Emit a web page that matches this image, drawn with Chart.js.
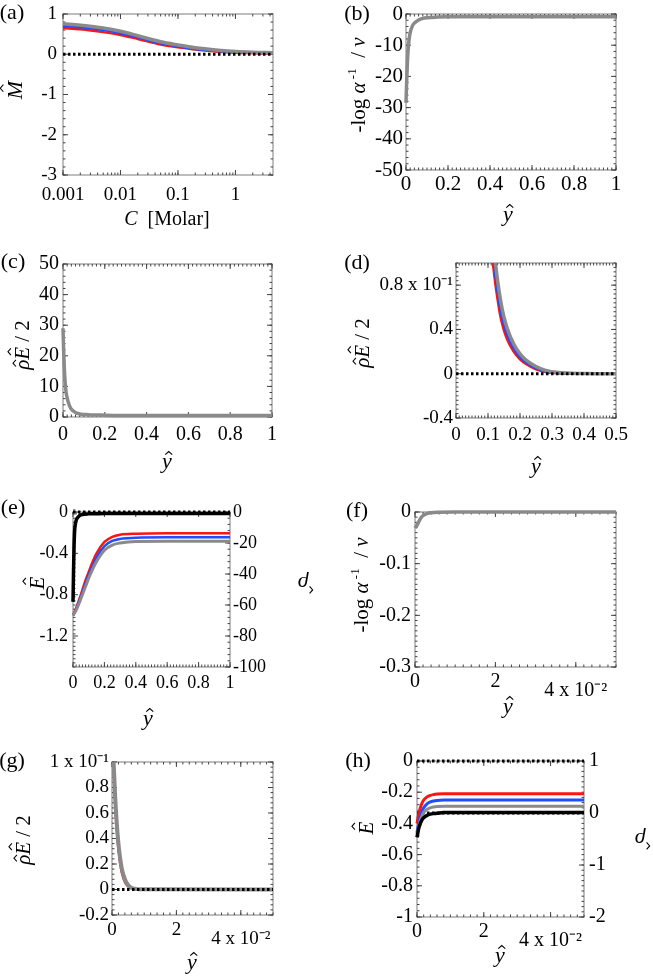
<!DOCTYPE html>
<html>
<head>
<meta charset="utf-8">
<script src="https://cdn.jsdelivr.net/npm/chart.js@4.4.1/dist/chart.umd.min.js"></script>
<style>
  body { margin: 0; background: #fff; }
  #fig { position: relative; width: 653px; height: 977px; }
  #fig canvas { position: absolute; left: 0; top: 0; }
</style>
</head>
<body>
<div id="fig">
  <canvas id="pa" width="653" height="977"></canvas>
  <canvas id="pb" width="653" height="977"></canvas>
  <canvas id="pc" width="653" height="977"></canvas>
  <canvas id="pd" width="653" height="977"></canvas>
  <canvas id="pe" width="653" height="977"></canvas>
  <canvas id="pf" width="653" height="977"></canvas>
  <canvas id="pg" width="653" height="977"></canvas>
  <canvas id="ph" width="653" height="977"></canvas>
</div>
<script>
// ---- (a) M vs C (log axis)
const concA = [0.001, 0.002, 0.005, 0.01, 0.02, 0.05, 0.1, 0.2, 0.5, 1, 2, 4.5];
const mGrayA = [0.76, 0.72, 0.65, 0.57, 0.46, 0.31, 0.23, 0.16, 0.1, 0.067, 0.05, 0.04];
const mBlueA = [0.70, 0.67, 0.60, 0.52, 0.42, 0.27, 0.19, 0.13, 0.08, 0.05, 0.035, 0.025];
const mRedA = [0.65, 0.62, 0.55, 0.48, 0.38, 0.24, 0.175, 0.115, 0.065, 0.04, 0.027, 0.017];
const xTicksA = [0.001, 0.01, 0.1, 1];
const xLabelsA = ['0.001', '0.01', '0.1', '1'];
const yTicksA = [1, 0, -1, -2, -3];

// ---- (b) -log a^-1 / v vs y
const yB = [0, 0.003, 0.006, 0.01, 0.015, 0.02, 0.03, 0.04, 0.06, 0.08, 0.1, 0.15, 0.2, 0.4, 1];
const logGrayB = [-28.5, -22, -16.5, -11.5, -8, -6, -3.9, -2.9, -1.9, -1.4, -1.2, -1.0, -0.9, -0.85, -0.85];
const xTicksB = [0, 0.2, 0.4, 0.6, 0.8, 1];
const xLabelsB = ['0', '0.2', '0.4', '0.6', '0.8', '1'];
const yTicksB = [0, -10, -20, -30, -40, -50];

// ---- (c) rhoE/2 vs y
const yC = [0, 0.003, 0.006, 0.01, 0.015, 0.02, 0.03, 0.04, 0.06, 0.08, 0.12, 0.2, 0.4, 1];
const reGrayC = [29, 22, 16.5, 11.5, 8, 6.2, 3.9, 2.5, 1.5, 1.0, 0.75, 0.6, 0.5, 0.5];
const xTicksC = [0, 0.2, 0.4, 0.6, 0.8, 1];
const xLabelsC = ['0', '0.2', '0.4', '0.6', '0.8', '1'];
const yTicksC = [0, 10, 20, 30, 40, 50];

// ---- (d) rhoE/2 (x10^-1) vs y, zoomed
const yD = [0.10, 0.11, 0.12, 0.13, 0.14, 0.15, 0.16, 0.18, 0.20, 0.22, 0.25, 0.28, 0.32, 0.4, 0.5];
const reRedD = [1.45, 1.15, 0.88, 0.67, 0.5, 0.39, 0.31, 0.2, 0.13, 0.085, 0.04, 0.015, 0.004, 0, 0];
const reBlueD = [1.55, 1.24, 0.96, 0.74, 0.56, 0.44, 0.35, 0.23, 0.15, 0.1, 0.05, 0.02, 0.006, 0.001, 0];
const reGrayD = [1.7, 1.38, 1.08, 0.84, 0.65, 0.51, 0.41, 0.27, 0.18, 0.12, 0.065, 0.03, 0.01, 0.002, 0];
const xTicksD = [0, 0.1, 0.2, 0.3, 0.4, 0.5];
const xLabelsD = ['0', '0.1', '0.2', '0.3', '0.4', '0.5'];
const yTicksD = [-0.4, 0, 0.4, 0.8];
const yLabelsD = ['-0.4', '0', '0.4', '0.8 x 10⁻¹'];

// ---- (e) E (left) and rho (right) vs y
const yE = [0, 0.02, 0.05, 0.08, 0.1, 0.12, 0.15, 0.2, 0.25, 0.3, 0.4, 0.6, 1];
const eRedE = [-1.0, -0.93, -0.8, -0.66, -0.58, -0.5, -0.4, -0.29, -0.24, -0.22, -0.21, -0.205, -0.205];
const eBlueE = [-1.0, -0.94, -0.82, -0.69, -0.61, -0.54, -0.44, -0.33, -0.28, -0.26, -0.248, -0.245, -0.245];
const eGrayE = [-1.0, -0.95, -0.84, -0.72, -0.64, -0.57, -0.48, -0.37, -0.32, -0.3, -0.285, -0.283, -0.283];
const yRhoE = [0, 0.003, 0.006, 0.01, 0.015, 0.02, 0.03, 0.04, 0.05, 0.07, 0.1, 0.15, 0.2, 1];
const rhoBlackE = [-58, -40, -25, -13, -8, -5.5, -3.5, -2.5, -1.9, -1.4, -1.2, -1.1, -1.0, -1.0];
const xTicksE = [0, 0.2, 0.4, 0.6, 0.8, 1];
const xLabelsE = ['0', '0.2', '0.4', '0.6', '0.8', '1'];
const yTicksE = [0, -0.4, -0.8, -1.2];
const y2TicksE = [0, -20, -40, -60, -80, -100];

// ---- (f) -log a^-1 / v vs y (x10^-2)
const yF = [0, 0.05, 0.1, 0.15, 0.2, 0.3, 0.4, 0.6, 1, 5];
const logGrayF = [-0.031, -0.026, -0.018, -0.011, -0.007, -0.003, -0.0015, -0.0005, 0, 0];
const xTicksF = [0, 2, 4];
const xLabelsF = ['0', '2', ['', '4 x 10⁻²']];
const yTicksF = [0, -0.1, -0.2, -0.3];

// ---- (g) rhoE/2 (x10^-1) vs y (x10^-2)
const yG = [0, 0.05, 0.1, 0.15, 0.2, 0.25, 0.3, 0.4, 0.5, 0.6, 0.8, 1, 5];
const reRedG = [1.25, 0.92, 0.64, 0.44, 0.3, 0.2, 0.13, 0.055, 0.022, 0.008, 0.001, 0, 0];
const reBlueG = [1.28, 0.95, 0.67, 0.47, 0.32, 0.22, 0.15, 0.065, 0.027, 0.01, 0.002, 0, 0];
const reGrayG = [1.32, 1.0, 0.72, 0.51, 0.36, 0.25, 0.17, 0.08, 0.035, 0.014, 0.003, 0.001, 0];
const xTicksG = [0, 2, 4];
const xLabelsG = ['0', '2', ['', '4 x 10⁻²']];
const yTicksG = [-0.2, 0, 0.2, 0.4, 0.6, 0.8, 1];
const yLabelsG = ['-0.2', '0', '0.2', '0.4', '0.6', '0.8', '1 x 10⁻¹'];

// ---- (h) E (left) and rho (right) vs y (x10^-2)
const yH = [0, 0.05, 0.1, 0.15, 0.2, 0.3, 0.4, 0.5, 0.6, 0.8, 1, 1.5, 5];
const eRedH = [-0.40, -0.34, -0.30, -0.27, -0.25, -0.23, -0.22, -0.215, -0.212, -0.21, -0.21, -0.21, -0.21];
const eBlueH = [-0.46, -0.40, -0.35, -0.32, -0.30, -0.275, -0.262, -0.256, -0.253, -0.25, -0.25, -0.25, -0.25];
const eGrayH = [-0.47, -0.42, -0.38, -0.35, -0.33, -0.31, -0.30, -0.295, -0.292, -0.29, -0.29, -0.29, -0.29];
const rhoBlackH = [-0.47, -0.3, -0.2, -0.13, -0.09, -0.045, -0.022, -0.011, -0.005, 0.01, 0.01, 0.01, 0.01];
const xTicksH = [0, 2, 4];
const xLabelsH = ['0', '2', ['', '4 x 10⁻²']];
const yTicksH = [0, -0.2, -0.4, -0.6, -0.8, -1];
const y2TicksH = [1, 0, -1, -2];

const SERIF = '"Liberation Serif", "Times New Roman", serif';
const W = 653, H = 977;
const RED = '#ff1414', BLUE = '#1f4dff', GRAY = '#8a8a8a', BLACK = '#000000';

// titles (rich text segments)
const yHatT = [{ t: 'y', it: true, hat: 0.62 }];
const eHatT = [{ t: 'E', it: true, hat: 0.86 }];
// right-hand label appears upside down, its hat sitting at the lower right
const rhoHatT = [{ t: 'ρ', it: true, hat: 0.6, hatDx: -0.3, hatDir: 'left' }];
const rhoET = [{ t: 'ρ', it: true, hat: 0.62 }, { t: 'E', it: true, hat: 0.86 }, { t: ' / 2' }];
const logAT = [{ t: '-log ' }, { t: 'α', it: true }, { t: ' -1', sup: true }, { t: '  / ' }, { t: 'ν', it: true }];
const mHatT = [{ t: 'M', it: true, hat: 0.86 }];
const concT = [{ t: 'C', it: true }, { t: '  [Molar]' }];

function drawRich(ctx, segs, x, y, size, rot) {
  ctx.save();
  ctx.translate(x, y);
  ctx.rotate(rot || 0);
  ctx.textAlign = 'left';
  ctx.textBaseline = 'alphabetic';
  ctx.fillStyle = '#000';
  ctx.strokeStyle = '#000';
  const items = [];
  let w = 0;
  segs.forEach(s => {
    const sz = s.sup ? size * 0.62 : size;
    const font = (s.it ? 'italic ' : '') + sz + 'px ' + SERIF;
    ctx.font = font;
    const tw = ctx.measureText(s.t).width;
    items.push({ s, font, x: w, w: tw });
    w += tw;
  });
  const base = size * 0.33;
  items.forEach(it => {
    ctx.font = it.font;
    const by = it.s.sup ? base - size * 0.42 : base;
    const x0 = it.x - w / 2;
    ctx.fillText(it.s.t, x0, by);
    if (it.s.hat) {
      const hx = x0 + it.w / 2 + size * (it.s.hatDx === undefined ? 0.08 : it.s.hatDx);
      const hy = by - size * it.s.hat;
      const hw = size * 0.16, hh = size * 0.14;
      ctx.lineWidth = Math.max(1, size * 0.05);
      ctx.beginPath();
      if (it.s.hatDir === 'left') {
        ctx.moveTo(hx, hy - hw);
        ctx.lineTo(hx - hh, hy);
        ctx.lineTo(hx, hy + hw);
      } else {
        ctx.moveTo(hx - hw, hy);
        ctx.lineTo(hx, hy - hh);
        ctx.lineTo(hx + hw, hy);
      }
      ctx.stroke();
    }
  });
  ctx.restore();
}

function minorVals(scale, step) {
  const out = [];
  if (scale.type === 'logarithmic') {
    for (let d = -3; d <= 1; d++) {
      for (let k = 1; k < 10; k++) {
        const v = k * Math.pow(10, d);
        if (v >= scale.min && v <= scale.max) out.push(v);
      }
    }
    return out;
  }
  const n = Math.round((scale.max - scale.min) / step);
  for (let i = 0; i <= n; i++) out.push(scale.min + i * step);
  return out;
}

function decor(p) {
  return {
    id: 'decor',
    beforeDatasetsDraw(chart) {
      const { ctx, chartArea: a, scales } = chart;
      ctx.save();
      ctx.strokeStyle = '#a8a8a8';
      ctx.lineWidth = 1.5;
      ctx.strokeRect(a.left, a.top, a.width, a.height);
      ctx.strokeStyle = '#444';
      ctx.lineWidth = 1;
      ctx.beginPath();
      const xs = scales.x;
      const hTicks = (vals, len) => vals.forEach(v => {
        const px = xs.getPixelForValue(v);
        ctx.moveTo(px, a.bottom); ctx.lineTo(px, a.bottom - len);
        ctx.moveTo(px, a.top); ctx.lineTo(px, a.top + len);
      });
      const vTicks = (sc, vals, len, side) => vals.forEach(v => {
        const py = sc.getPixelForValue(v);
        if (side !== 'right') { ctx.moveTo(a.left, py); ctx.lineTo(a.left + len, py); }
        if (side !== 'left') { ctx.moveTo(a.right, py); ctx.lineTo(a.right - len, py); }
      });
      hTicks(minorVals(xs, p.xMinor), 2.5);
      hTicks(p.xTicks, 5);
      const side = scales.y2 ? 'left' : 'both';
      vTicks(scales.y, minorVals(scales.y, p.yMinor), 2.5, side);
      vTicks(scales.y, p.yTicks, 5, side);
      if (scales.y2) {
        vTicks(scales.y2, minorVals(scales.y2, p.y2Minor), 2.5, 'right');
        vTicks(scales.y2, p.y2Ticks, 5, 'right');
      }
      ctx.stroke();
      ctx.restore();
    },
    afterDraw(chart) {
      const ctx = chart.ctx;
      drawRich(ctx, [{ t: p.tag }], p.tagPos[0], p.tagPos[1], 22, 0);
      drawRich(ctx, p.xTitle, p.xTitlePos[0], p.xTitlePos[1], p.xTitleFs || 22, 0);
      drawRich(ctx, p.yTitle, p.yTitlePos[0], p.yTitlePos[1], p.yTitleFs || 21, -Math.PI / 2);
      if (p.y2Title) drawRich(ctx, p.y2Title, p.y2TitlePos[0], p.y2TitlePos[1], 22, Math.PI);
    }
  };
}

function line(xs, ys, color, width, axis, clipTop) {
  return {
    data: xs.map((x, i) => ({ x, y: ys[i] })),
    borderColor: color, borderWidth: width, pointRadius: 0,
    cubicInterpolationMode: 'monotone', yAxisID: axis || 'y',
    clip: { left: 2, right: 0, top: clipTop === undefined ? 2 : clipTop, bottom: 2 }
  };
}
function zero(x0, x1, axis, order) {
  return {
    data: [{ x: x0, y: 0 }, { x: x1, y: 0 }],
    borderColor: BLACK, borderWidth: 3, borderDash: [2.5, 2.5], pointRadius: 0,
    yAxisID: axis || 'y', order: order || 0, clip: 3
  };
}

// axis boxes are sized so that Chart.js does not clip the tick labels
const X_AXIS_H = 45, Y2_AXIS_W = 60;

function yScale(ticks, labels, min, max, fs, pad, pos, width) {
  return {
    type: 'linear', position: pos, min, max,
    afterFit: s => { s.width = width; },
    afterBuildTicks: s => { s.ticks = ticks.map(v => ({ value: v })); },
    ticks: { callback: (v, i) => labels ? labels[i] : String(ticks[i]), font: { family: SERIF, size: fs, lineHeight: 0.45 }, color: '#000', padding: pad, autoSkip: false },
    grid: { display: false, drawTicks: false }, border: { display: false }
  };
}

function makePanel(id, p) {
  const b = p.box;
  const yW = Math.min(b.l, 120);
  const scales = {
    x: {
      type: p.xType || 'linear', min: p.xMin, max: p.xMax,
      afterFit: s => { s.height = X_AXIS_H; },
      afterBuildTicks: s => { s.ticks = p.xTicks.map(v => ({ value: v })); },
      ticks: { callback: (v, i) => p.xLabels[i], font: { family: SERIF, size: p.fs, lineHeight: 0.45 }, color: '#000', padding: p.xPad, autoSkip: false, maxRotation: 0, minRotation: 0 },
      grid: { display: false, drawTicks: false }, border: { display: false }
    },
    y: yScale(p.yTicks, p.yLabels, p.yMin, p.yMax, p.fs, p.yPad, 'left', yW)
  };
  if (p.y2Ticks) scales.y2 = yScale(p.y2Ticks, null, p.y2Min, p.y2Max, p.fs, p.y2Pad, 'right', Y2_AXIS_W);
  new Chart(document.getElementById(id), {
    type: 'line',
    data: { datasets: p.datasets },
    options: {
      responsive: false, animation: false, devicePixelRatio: 1, events: [],
      layout: { padding: { left: b.l - yW, top: b.t, right: W - b.r - (p.y2Ticks ? Y2_AXIS_W : 0), bottom: H - b.b - X_AXIS_H } },
      plugins: { legend: { display: false }, tooltip: { enabled: false } },
      scales
    },
    plugins: [decor(p)]
  });
}

makePanel('pa', {
  box: { l: 63, t: 14, r: 273, b: 175 }, fs: 19,
  xType: 'logarithmic', xMin: 0.001, xMax: 4.5, xTicks: xTicksA, xLabels: xLabelsA, xPad: 16,
  yMin: -3, yMax: 1, yTicks: yTicksA, yPad: 6, yMinor: 0.2,
  tag: '(a)', tagPos: [12, 12],
  xTitle: concT, xTitlePos: [167, 218], xTitleFs: 20,
  yTitle: mHatT, yTitlePos: [15, 90], yTitleFs: 22,
  datasets: [
    zero(0.001, 4.5, 'y', 0),
    line(concA, mGrayA, GRAY, 3.5), line(concA, mBlueA, BLUE, 2.5), line(concA, mRedA, RED, 2.5)
  ]
});

makePanel('pb', {
  box: { l: 406, t: 14, r: 616, b: 170 }, fs: 21,
  xMin: 0, xMax: 1, xTicks: xTicksB, xLabels: xLabelsB, xPad: 10, xMinor: 0.02,
  yMin: -50, yMax: 0, yTicks: yTicksB, yPad: 3, yMinor: 2,
  tag: '(b)', tagPos: [357, 13],
  xTitle: yHatT, xTitlePos: [508, 214],
  yTitle: logAT, yTitlePos: [358, 85],
  datasets: [line(yB, logGrayB, GRAY, 3.5)]
});

makePanel('pc', {
  box: { l: 63, t: 264, r: 272, b: 417 }, fs: 20,
  xMin: 0, xMax: 1, xTicks: xTicksC, xLabels: xLabelsC, xPad: 13, xMinor: 0.02,
  yMin: 0, yMax: 50, yTicks: yTicksC, yPad: 4, yMinor: 2,
  tag: '(c)', tagPos: [13, 261],
  xTitle: yHatT, xTitlePos: [167, 461],
  yTitle: rhoET, yTitlePos: [22, 345],
  datasets: [line(yC, reGrayC, GRAY, 3.5)]
});

makePanel('pd', {
  box: { l: 456, t: 263, r: 616, b: 418 }, fs: 19,
  xMin: 0, xMax: 0.5, xTicks: xTicksD, xLabels: xLabelsD, xPad: 13, xMinor: 0.01,
  yMin: -0.4, yMax: 1.0, yTicks: yTicksD, yLabels: yLabelsD, yPad: 3, yMinor: 0.04,
  tag: '(d)', tagPos: [357, 262],
  xTitle: yHatT, xTitlePos: [536, 466],
  yTitle: rhoET, yTitlePos: [362, 343],
  datasets: [
    zero(0, 0.5, 'y', 0),
    line(yD, reGrayD, GRAY, 3.5, 'y', 0), line(yD, reBlueD, BLUE, 2.5, 'y', 0), line(yD, reRedD, RED, 2.5, 'y', 0)
  ]
});

makePanel('pe', {
  box: { l: 73, t: 512, r: 230, b: 667 }, fs: 18,
  xMin: 0, xMax: 1, xTicks: xTicksE, xLabels: xLabelsE, xPad: 12, xMinor: 0.02,
  yMin: -1.5, yMax: 0, yTicks: yTicksE, yPad: 5, yMinor: 0.04,
  y2Min: -100, y2Max: 0, y2Ticks: y2TicksE, y2Pad: 3, y2Minor: 4,
  tag: '(e)', tagPos: [13, 507],
  xTitle: yHatT, xTitlePos: [148, 718],
  yTitle: eHatT, yTitlePos: [37, 583],
  y2Title: rhoHatT, y2TitlePos: [303, 584],
  datasets: [
    line(yRhoE, rhoBlackE, BLACK, 3.5, 'y2'),
    line(yE, eGrayE, GRAY, 3), line(yE, eBlueE, BLUE, 2.5), line(yE, eRedE, RED, 2.5),
    zero(0, 1, 'y', 5)
  ]
});

makePanel('pf', {
  box: { l: 415, t: 512, r: 616, b: 667 }, fs: 20,
  xMin: 0, xMax: 5, xTicks: xTicksF, xLabels: xLabelsF, xPad: 10.5, xMinor: 0.2,
  yMin: -0.3, yMax: 0, yTicks: yTicksF, yPad: 4, yMinor: 0.01,
  tag: '(f)', tagPos: [357, 510],
  xTitle: yHatT, xTitlePos: [508, 706],
  yTitle: logAT, yTitlePos: [361, 585],
  datasets: [line(yF, logGrayF, GRAY, 3.5)]
});

makePanel('pg', {
  box: { l: 112, t: 762, r: 273, b: 915 }, fs: 19,
  xMin: 0, xMax: 5, xTicks: xTicksG, xLabels: xLabelsG, xPad: 10.7, xMinor: 0.2,
  yMin: -0.2, yMax: 1.0, yTicks: yTicksG, yLabels: yLabelsG, yPad: 3, yMinor: 0.04,
  tag: '(g)', tagPos: [12, 760],
  xTitle: yHatT, xTitlePos: [192, 962],
  yTitle: rhoET, yTitlePos: [23, 840],
  datasets: [
    zero(0, 5, 'y', 0),
    line(yG, reGrayG, GRAY, 4, 'y', 0), line(yG, reBlueG, BLUE, 2, 'y', 0), line(yG, reRedG, RED, 2, 'y', 0)
  ]
});

makePanel('ph', {
  box: { l: 417, t: 761, r: 584, b: 917 }, fs: 20,
  xMin: 0, xMax: 5, xTicks: xTicksH, xLabels: xLabelsH, xPad: 10.5, xMinor: 0.2,
  yMin: -1, yMax: 0, yTicks: yTicksH, yPad: 4, yMinor: 0.04,
  y2Min: -2, y2Max: 1, y2Ticks: y2TicksH, y2Pad: 5, y2Minor: 0.1,
  tag: '(h)', tagPos: [358, 760],
  xTitle: yHatT, xTitlePos: [500, 955],
  yTitle: eHatT, yTitlePos: [366, 828],
  y2Title: rhoHatT, y2TitlePos: [640, 840],
  datasets: [
    zero(0, 5, 'y', 6), zero(0, 5, 'y2', 6),
    line(yH, rhoBlackH, BLACK, 3.5, 'y2'),
    line(yH, eGrayH, GRAY, 3), line(yH, eBlueH, BLUE, 3), line(yH, eRedH, RED, 3)
  ]
});
</script>
</body>
</html>
